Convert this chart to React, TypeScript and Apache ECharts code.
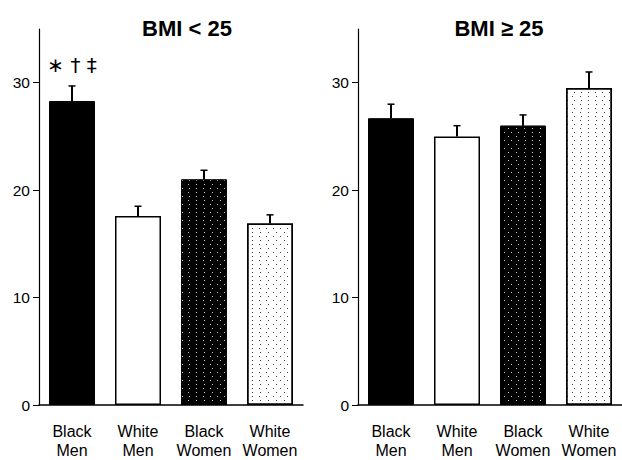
import React, { useEffect, useRef } from "react";
import * as echarts from "echarts";

const categories = ["Black\nMen", "White\nMen", "Black\nWomen", "White\nWomen"];
const leftTitle = "BMI < 25";
const rightTitle = "BMI ≥ 25";
const leftValues = [28.3, 17.6, 21.0, 16.9];
const leftErrors = [1.4, 0.9, 0.85, 0.8];
const rightValues = [26.7, 25.0, 26.0, 29.5];
const rightErrors = [1.3, 1.0, 1.0, 1.5];
const yTicks = [0, 10, 20, 30];
const annotation = "∗ † ‡";

const FONT = "'Liberation Sans', Arial, sans-serif";

const dotsOnBlack = {
  symbol: "rect",
  symbolSize: 1,
  color: "rgba(255,255,255,0.8)",
  dashArrayX: [[1, 6], [0, 3.5, 1, 2.5]],
  dashArrayY: [1, 3],
};
const dotsOnWhite = {
  symbol: "rect",
  symbolSize: 1,
  color: "rgba(0,0,0,0.75)",
  dashArrayX: [[1, 6], [0, 3.5, 1, 2.5]],
  dashArrayY: [1, 3],
};

const barStyles = [
  { color: "#000", borderColor: "#000", borderWidth: 1 },
  { color: "#fff", borderColor: "#000", borderWidth: 1.5 },
  { color: "#000", borderColor: "#000", borderWidth: 1, decal: dotsOnBlack },
  { color: "#fff", borderColor: "#000", borderWidth: 1.5, decal: dotsOnWhite },
];

function barData(values: number[], withAnnotation: boolean) {
  return values.map((v, i) => {
    const item: any = { value: v, itemStyle: barStyles[i] };
    if (withAnnotation && i === 0) {
      item.label = {
        show: true,
        position: "top",
        distance: 26,
        formatter: annotation,
        fontSize: 20,
        fontFamily: "'DejaVu Sans', sans-serif",
        color: "#000",
      };
    }
    return item;
  });
}

function errData(values: number[], errs: number[]) {
  return values.map((v, i) => [i, v, errs[i]]);
}

const renderErr = (params: any, api: any) => {
  const x = api.value(0);
  const v = api.value(1);
  const e = api.value(2);
  const p0 = api.coord([x, v]);
  const p1 = api.coord([x, v + e]);
  return {
    type: "group",
    children: [
      {
        type: "line",
        shape: { x1: p0[0], y1: p0[1], x2: p1[0], y2: p1[1] },
        style: { stroke: "#000", lineWidth: 2 },
      },
      {
        type: "line",
        shape: { x1: p1[0] - 3.5, y1: p1[1], x2: p1[0] + 3.5, y2: p1[1] },
        style: { stroke: "#000", lineWidth: 1.5 },
      },
    ],
  };
};

export default function App() {
  const ref = useRef<HTMLDivElement>(null);
  useEffect(() => {
    if (!ref.current) return;
    const chart = echarts.init(ref.current, null, { renderer: "svg" });
    const xAxisCommon = {
      type: "category",
      data: categories,
      axisLine: { lineStyle: { color: "#000", width: 1.5 } },
      axisTick: { alignWithLabel: true, length: 5, interval: 0, lineStyle: { color: "#000", width: 1.5 } },
      axisLabel: {
        color: "#000",
        fontSize: 16,
        fontFamily: FONT,
        margin: 17,
        lineHeight: 19,
        interval: 0,
        hideOverlap: false,
      },
    };
    const yAxisCommon = {
      type: "value",
      min: 0,
      max: 35,
      interval: 10,
      splitLine: { show: false },
      axisLine: { show: true, lineStyle: { color: "#000", width: 1.2 } },
      axisTick: { show: true, length: 6, customValues: yTicks, lineStyle: { color: "#000", width: 1 } },
      axisLabel: {
        color: "#000",
        fontSize: 15.5,
        fontFamily: FONT,
        margin: 9,
        customValues: yTicks,
      },
    };
    chart.setOption({
      animation: false,
      backgroundColor: "#fff",
      title: [
        {
          text: leftTitle,
          left: 182,
          top: 12,
          textAlign: "center",
          textStyle: { fontSize: 22, fontWeight: "bold", fontFamily: FONT, color: "#000" },
        },
        {
          text: rightTitle,
          left: 494,
          top: 12,
          textAlign: "center",
          textStyle: { fontSize: 22, fontWeight: "bold", fontFamily: FONT, color: "#000" },
        },
      ],
      grid: [
        { left: 39, right: 319, top: 29, bottom: 53 },
        { left: 358, right: 0, top: 29, bottom: 52 },
      ],
      xAxis: [
        { ...xAxisCommon, gridIndex: 0 },
        { ...xAxisCommon, gridIndex: 1 },
      ],
      yAxis: [
        { ...yAxisCommon, gridIndex: 0 },
        { ...yAxisCommon, gridIndex: 1 },
      ],
      series: [
        {
          type: "bar",
          xAxisIndex: 0,
          yAxisIndex: 0,
          barWidth: 46,
          data: barData(leftValues, true),
        },
        {
          type: "custom",
          xAxisIndex: 0,
          yAxisIndex: 0,
          renderItem: renderErr,
          data: errData(leftValues, leftErrors),
          z: 3,
        },
        {
          type: "bar",
          xAxisIndex: 1,
          yAxisIndex: 1,
          barWidth: 46,
          data: barData(rightValues, false),
        },
        {
          type: "custom",
          xAxisIndex: 1,
          yAxisIndex: 1,
          renderItem: renderErr,
          data: errData(rightValues, rightErrors),
          z: 3,
        },
      ],
    });
    return () => chart.dispose();
  }, []);
  return (
    <div
      ref={ref}
      style={{ position: "fixed", left: 0, top: 0, width: 622, height: 460, background: "#fff" }}
    />
  );
}
